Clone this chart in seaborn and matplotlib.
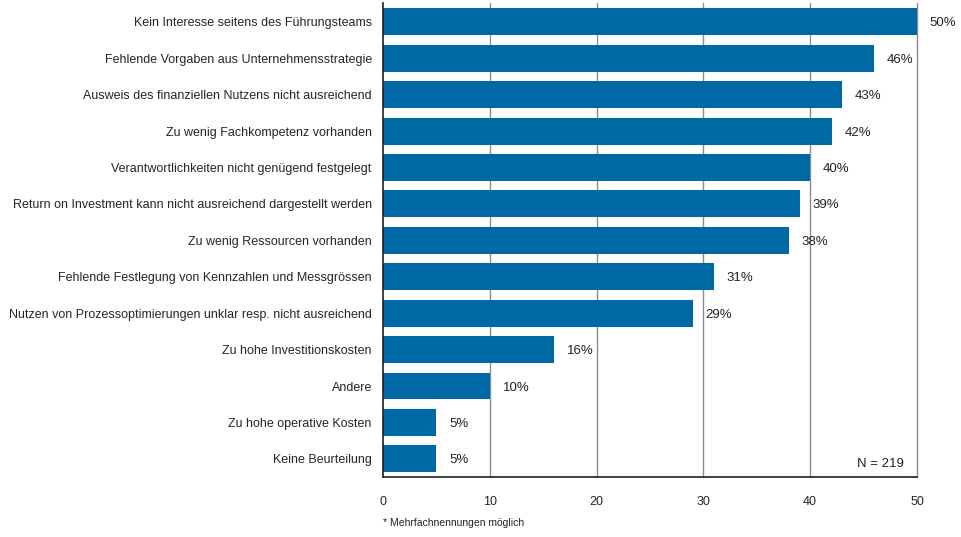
import pandas as pd
import matplotlib.pyplot as plt
import seaborn as sns

categories = [
    "Kein Interesse seitens des Führungsteams",
    "Fehlende Vorgaben aus Unternehmensstrategie",
    "Ausweis des finanziellen Nutzens nicht ausreichend",
    "Zu wenig Fachkompetenz vorhanden",
    "Verantwortlichkeiten nicht genügend festgelegt",
    "Return on Investment kann nicht ausreichend dargestellt werden",
    "Zu wenig Ressourcen vorhanden",
    "Fehlende Festlegung von Kennzahlen und Messgrössen",
    "Nutzen von Prozessoptimierungen unklar resp. nicht ausreichend",
    "Zu hohe Investitionskosten",
    "Andere",
    "Zu hohe operative Kosten",
    "Keine Beurteilung",
]
values = [50, 46, 43, 42, 40, 39, 38, 31, 29, 16, 10, 5, 5]
xticks = [0, 10, 20, 30, 40, 50]

df = pd.DataFrame({"Grund": categories, "Prozent": values})

sns.set_style("white")
plt.rcParams["font.family"] = ["Liberation Sans", "DejaVu Sans"]

fig = plt.figure(figsize=(9.61, 5.37), dpi=100)
ax = fig.add_axes([0.3985, 0.1117, 0.5557, 0.8827])

for x in xticks[1:]:
    ax.axvline(x, color="#8c8c8c", lw=1.0, zorder=0, clip_on=False)

sns.barplot(data=df, x="Prozent", y="Grund", color="#0068a5", saturation=1,
            width=0.74, linewidth=0, edgecolor="none", ax=ax, zorder=2)

for i, v in enumerate(values):
    ax.text(v + 1.2, i, f"{v}%", va="center_baseline", ha="left", fontsize=9.5,
            color="#222222")

ax.set_xlim(0, 50)
ax.set_ylim(12.5, -0.52)
ax.set_xticks(xticks)
ax.set_xlabel("")
ax.set_ylabel("")
ax.tick_params(axis="x", length=0, labelsize=9, pad=14)
ax.tick_params(axis="y", length=0, labelsize=9, pad=8)
for s in ["top", "right"]:
    ax.spines[s].set_visible(False)
for s in ["left", "bottom"]:
    ax.spines[s].set_color("#231f20")
    ax.spines[s].set_linewidth(1.2)
    ax.spines[s].set_zorder(3)

ax.text(48.8, 12.1, "N = 219", ha="right", va="center_baseline", fontsize=9.5,
        color="#222222")
fig.text(0.3985, 0.026, "* Mehrfachnennungen möglich", fontsize=7.5, ha="left", va="center",
         color="#222222")

fig.savefig("out.png", dpi=100)
